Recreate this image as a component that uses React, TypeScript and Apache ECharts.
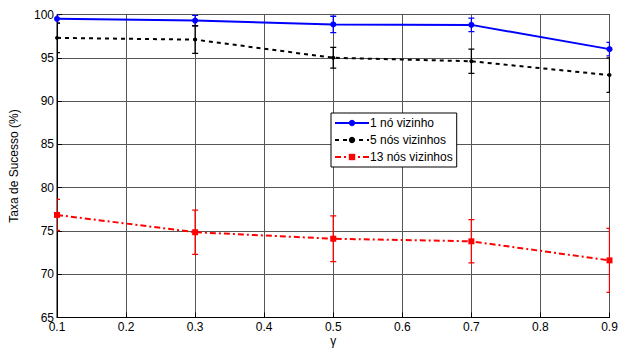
import React, { useEffect, useRef } from "react";
import * as echarts from "echarts";

const gammaValues = [0.1, 0.3, 0.5, 0.7, 0.9];
const oneNeighbor = [99.5, 99.3, 98.85, 98.8, 96.0];
const oneNeighborErr = [0.5, 0.6, 0.95, 0.77, 0.77];
const fiveNeighbors = [97.3, 97.1, 95.0, 94.6, 93.0];
const fiveNeighborsErr = [1.7, 1.6, 1.2, 1.4, 2.0];
const thirteenNeighbors = [76.85, 74.85, 74.1, 73.8, 71.6];
const thirteenNeighborsErr = [1.8, 2.55, 2.65, 2.5, 3.7];
const seriesNames = ["1 nó vizinho", "5 nós vizinhos", "13 nós vizinhos"];

const FONT = "Liberation Sans, Arial, sans-serif";

function errorSeries(values: number[], errs: number[], color: string) {
  return {
    type: "custom",
    silent: true,
    clip: true,
    z: 3,
    data: gammaValues.map((x, i) => [x, values[i] - errs[i], values[i] + errs[i]]),
    encode: { x: 0, y: [1, 2] },
    renderItem: (_params: any, api: any) => {
      const x = api.value(0);
      const lo = api.coord([x, api.value(1)]);
      const hi = api.coord([x, api.value(2)]);
      const w = 3;
      const style = { stroke: color, lineWidth: 1.3 };
      return {
        type: "group",
        children: [
          { type: "line", shape: { x1: lo[0], y1: lo[1], x2: hi[0], y2: hi[1] }, style },
          { type: "line", shape: { x1: lo[0] - w, y1: lo[1], x2: lo[0] + w, y2: lo[1] }, style },
          { type: "line", shape: { x1: hi[0] - w, y1: hi[1], x2: hi[0] + w, y2: hi[1] }, style },
        ],
      };
    },
  };
}

export default function App() {
  const ref = useRef<HTMLDivElement>(null);
  useEffect(() => {
    document.body.style.margin = "0";
    const chart = echarts.init(ref.current!, null, { renderer: "svg" });
    chart.setOption({
      animation: false,
      backgroundColor: "#fff",
      textStyle: { fontFamily: FONT },
      grid: {
        left: 57,
        top: 14.5,
        width: 552.5,
        height: 303,
        outerBoundsMode: "none",
        containLabel: false,
        show: true,
        borderColor: "#000",
        borderWidth: 1,
        backgroundColor: "transparent",
      },
      legend: {
        data: seriesNames,
        orient: "vertical",
        left: 331,
        top: 113,
        backgroundColor: "#fff",
        borderColor: "#000",
        borderWidth: 1,
        borderRadius: 0,
        padding: [4, 4, 4, 3],
        itemGap: 5,
        itemWidth: 34,
        itemHeight: 8,
        textStyle: { fontSize: 12, color: "#000", fontFamily: FONT, padding: [0, 0, 0, -4] },
      },
      xAxis: {
        type: "value",
        min: 0.1,
        max: 0.9,
        interval: 0.1,
        name: "γ",
        nameLocation: "middle",
        nameGap: 17,
        nameMoveOverlap: false,
        nameTextStyle: { fontSize: 12, color: "#000", fontFamily: FONT, lineHeight: 13 },
        axisLine: { show: true, lineStyle: { color: "#000", width: 1 } },
        axisTick: { show: true, inside: true, length: 5, lineStyle: { color: "#000" } },
        axisLabel: {
          fontSize: 12,
          color: "#000",
          margin: 3,
          fontFamily: FONT,
          formatter: (v: number) => v.toFixed(1),
        },
        splitLine: { show: true, lineStyle: { color: "#555", width: 1 } },
      },
      yAxis: {
        type: "value",
        min: 65,
        max: 100,
        interval: 5,
        name: "Taxa de Sucesso (%)",
        nameLocation: "middle",
        nameRotate: 90,
        nameGap: 37,
        nameMoveOverlap: false,
        nameTextStyle: { fontSize: 12, color: "#000", fontFamily: FONT },
        axisLine: { show: true, lineStyle: { color: "#000", width: 1 } },
        axisTick: { show: true, inside: true, length: 5, lineStyle: { color: "#000" } },
        axisLabel: { fontSize: 12, color: "#000", margin: 3, fontFamily: FONT },
        splitLine: { show: true, lineStyle: { color: "#555", width: 1 } },
      },
      series: [
        errorSeries(oneNeighbor, oneNeighborErr, "#0000ff"),
        errorSeries(fiveNeighbors, fiveNeighborsErr, "#000000"),
        errorSeries(thirteenNeighbors, thirteenNeighborsErr, "#ff0000"),
        {
          name: seriesNames[0],
          type: "line",
          z: 4,
          data: gammaValues.map((x, i) => [x, oneNeighbor[i]]),
          symbol: "circle",
          symbolSize: 6,
          lineStyle: { color: "#0000ff", width: 2 },
          itemStyle: { color: "#0000ff" },
        },
        {
          name: seriesNames[1],
          type: "line",
          z: 4,
          data: gammaValues.map((x, i) => [x, fiveNeighbors[i]]),
          symbol: "circle",
          symbolSize: 4,
          lineStyle: { color: "#000", width: 2, type: [4, 4] },
          itemStyle: { color: "#000" },
        },
        {
          name: seriesNames[2],
          type: "line",
          z: 4,
          data: gammaValues.map((x, i) => [x, thirteenNeighbors[i]]),
          symbol: "rect",
          symbolSize: 6,
          lineStyle: { color: "#ff0000", width: 2, type: [6, 3, 2, 3] },
          itemStyle: { color: "#ff0000" },
        },
      ],
    });
    return () => chart.dispose();
  }, []);
  return <div ref={ref} style={{ width: 638, height: 349 }} />;
}
